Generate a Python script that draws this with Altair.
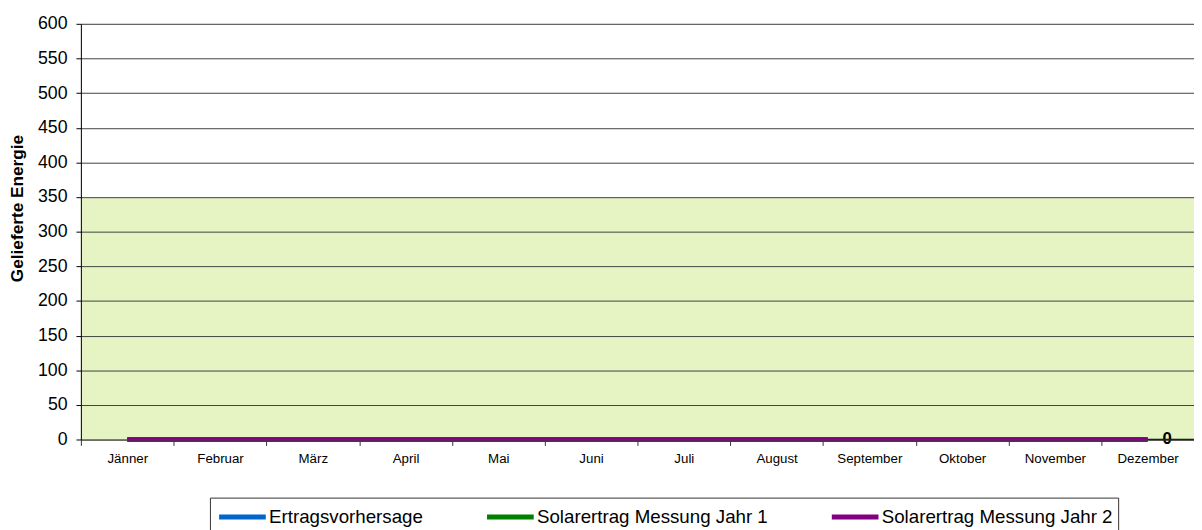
import altair as alt
import pandas as pd

months = ["Jänner", "Februar", "März", "April", "Mai", "Juni", "Juli",
          "August", "September", "Oktober", "November", "Dezember"]
series_names = ["Ertragsvorhersage", "Solarertrag Messung Jahr 1", "Solarertrag Messung Jahr 2"]
series_colors = ["#0066CC", "#008000", "#800080"]

ertragsvorhersage = [0, 0, 0, 0, 0, 0, 0, 0, 0, 0, 0, 0]
messung_jahr1 = [0, 0, 0, 0, 0, 0, 0, 0, 0, 0, 0, 0]
messung_jahr2 = [0, 0, 0, 0, 0, 0, 0, 0, 0, 0, 0, 0]

band_low = [0]
band_high = [350]

end_month = ["Dezember"]
end_value = [0]
end_label = ["0"]

y_ticks = [0, 50, 100, 150, 200, 250, 300, 350, 400, 450, 500, 550, 600]

rows = []
for name, vals in zip(series_names, [ertragsvorhersage, messung_jahr1, messung_jahr2]):
    for m, v in zip(months, vals):
        rows.append({"Monat": m, "Wert": v, "Serie": name})
df = pd.DataFrame(rows)

band_df = pd.DataFrame({"lo": band_low, "hi": band_high})
end_df = pd.DataFrame({"Monat": end_month, "Wert": end_value, "label": end_label})

FONT = "Liberation Sans"
W = 1130
H = 422

x_scale = alt.Scale(type="band", domain=months, paddingInner=0, paddingOuter=0)
y_scale = alt.Scale(domain=[0, 600], nice=False)

x_axis = alt.Axis(title=None, tickBand="extent", labelFont=FONT,
                  labelFontSize=13.5, labelColor="#000", tickSize=6, tickColor="#333",
                  domainColor="#333", labelPadding=6, labelAngle=0, labelOverlap=False)
y_axis = alt.Axis(title="Gelieferte Energie", values=y_ticks, labelFont=FONT,
                  labelFontSize=18, labelColor="#000", tickSize=5, tickColor="#000",
                  domainColor="#000", labelPadding=9, grid=True, gridColor="#404040",
                  gridWidth=1, titleFont=FONT, titleFontSize=17.5, titleFontWeight="bold",
                  titleColor="#000", titleAngle=270, titleAlign="center",
                  titleBaseline="middle", titleX=-64, titleY=187, zindex=1,
                  labelOverlap=False)

band = alt.Chart(band_df).mark_rect(color="#e6f4c4").encode(
    x=alt.value(0), x2=alt.value(W),
    y=alt.Y("lo:Q", scale=y_scale, axis=y_axis),
    y2="hi:Q",
)

lines = alt.Chart(df).mark_line(strokeWidth=4.5, strokeCap="butt").encode(
    x=alt.X("Monat:N", scale=x_scale, axis=x_axis, sort=months),
    y=alt.Y("Wert:Q", scale=y_scale, axis=y_axis),
    color=alt.Color("Serie:N", scale=alt.Scale(domain=series_names, range=series_colors),
                    sort=series_names,
                    legend=alt.Legend(title=None, orient="none", legendX=131, legendY=481,
                                      direction="horizontal",
                                      symbolType="M-0.85,0H3.1", symbolSize=576,
                                      symbolStrokeWidth=5, symbolFillColor="transparent",
                                      labelFont=FONT, labelFontSize=19, labelColor="#000",
                                      labelOffset=26, columnPadding=54, padding=5,
                                      strokeColor="#333", fillColor="#ffffff",
                                      labelLimit=400)),
)

end_rule = alt.Chart(end_df).mark_rule(color="#000", strokeWidth=1.6).encode(
    x=alt.X("Monat:N", scale=x_scale, bandPosition=0.5),
    x2=alt.X2("Monat:N", bandPosition=1),
    y=alt.Y("Wert:Q", scale=y_scale, axis=y_axis),
)

end_text = alt.Chart(end_df).mark_text(font=FONT, fontSize=17, fontWeight="bold",
                                       color="#000", baseline="middle", align="center").encode(
    x=alt.X("Monat:N", scale=x_scale, bandPosition=0.71),
    y=alt.Y("Wert:Q", scale=y_scale, axis=y_axis),
    text="label:N",
)

chart = alt.layer(band, lines, end_rule, end_text).properties(
    width=W, height=H,
    autosize=alt.AutoSizeParams(type="none"),
    padding={"left": 74, "top": 12, "right": 0, "bottom": 100},
).configure_view(stroke="#222", strokeWidth=1.2).configure(background="white")

chart.save("out.html", embed_options={"renderer": "svg", "actions": False})
